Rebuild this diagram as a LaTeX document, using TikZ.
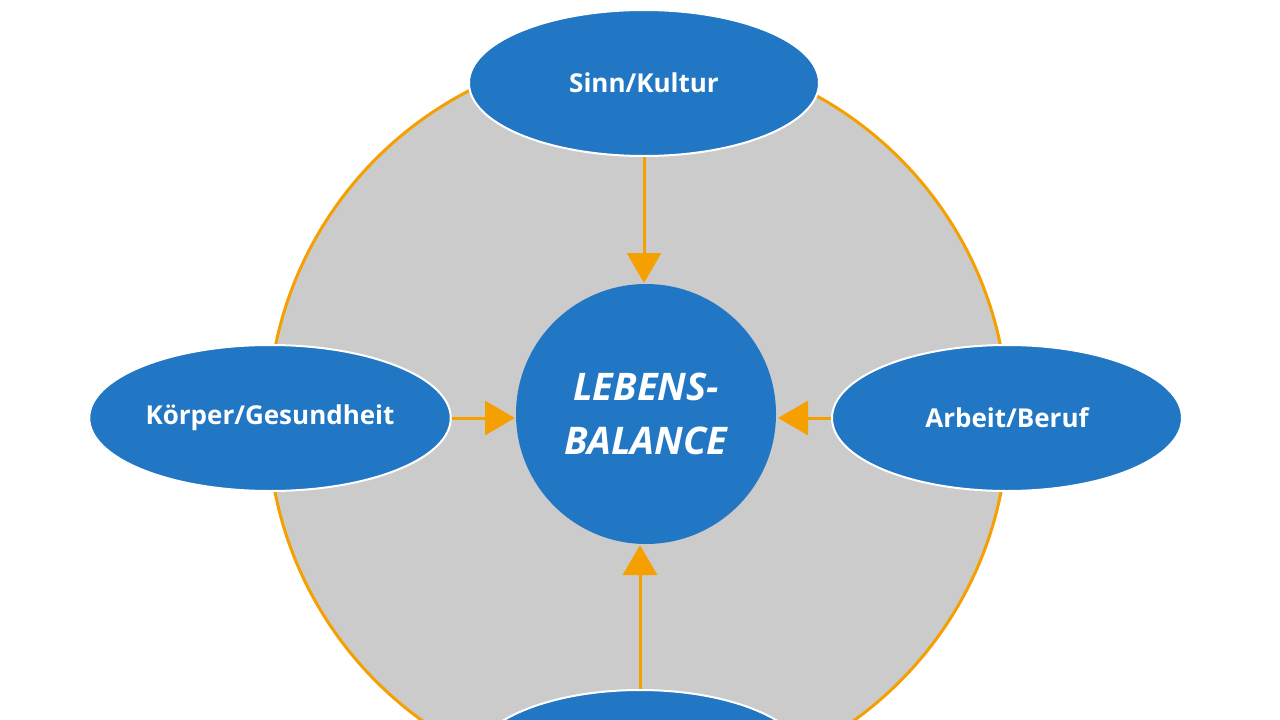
\documentclass[tikz,border=0pt]{standalone}
\usepackage{fontspec}
\setmainfont{Open Sans}
\usetikzlibrary{arrows.meta,shapes.geometric}
\definecolor{bl}{HTML}{2277C4}
\definecolor{gr}{HTML}{CCCBCC}
\definecolor{og}{HTML}{F5A000}
\begin{document}
\begin{tikzpicture}[x=1pt,y=-1pt,
  ell/.style={ellipse,fill=bl,draw=white,line width=2pt,text=white,font=\fontsize{26}{30}\selectfont\bfseries},
  arr/.style={draw=og,line width=3pt,-{Triangle[length=30pt,width=34pt]}}]
\useasboundingbox (0,0) rectangle (1280,720);
\clip (0,0) rectangle (1280,720);
\fill[white] (0,0) rectangle (1280,720);
\draw[fill=gr,draw=og,line width=3pt] (638,420) circle (370);
\node[circle,fill=bl,minimum size=260pt,text=white,align=center,
  font=\fontsize{38}{54}\selectfont\bfseries\itshape] (c) at (646,414) {LEBENS-\\BALANCE};
\node[ell,minimum width=350pt,minimum height=146pt] (t) at (644,83) {Sinn/Kultur};
\node[ell,minimum width=346pt,minimum height=146pt] (l) at (270,418) {Körper/Gesundheit};
\node[ell,minimum width=350pt,minimum height=146pt] (r) at (1007,418) {Arbeit/Beruf};
\node[ell,minimum width=340pt,minimum height=150pt] (b) at (640,765) {};
\coordinate (tc) at (644,283);
\coordinate (lc) at (515,418);
\coordinate (rc) at (778,418);
\coordinate (bc) at (640,545);
\draw[arr] (t.south) -- (tc);
\draw[arr] (l.east) -- (lc);
\draw[arr] (r.west) -- (rc);
\draw[arr] (b.north) -- (bc);
\end{tikzpicture}
\end{document}
